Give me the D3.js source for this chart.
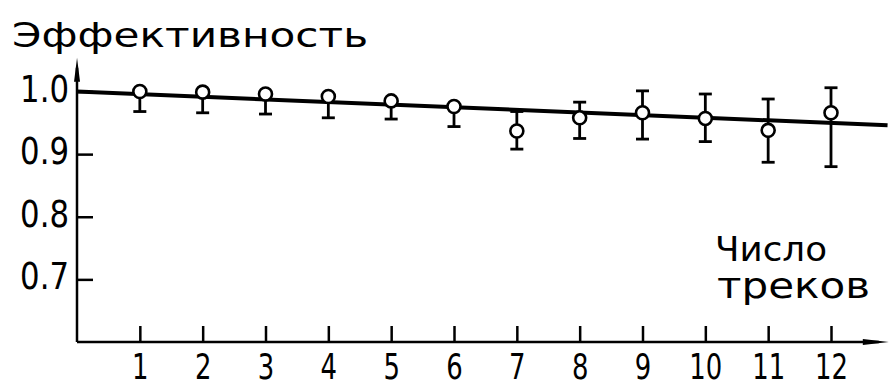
<!DOCTYPE html>
<html>
<head>
<meta charset="utf-8">
<script src="https://cdn.jsdelivr.net/npm/d3@7"></script>
<style>
  html, body { margin: 0; padding: 0; background: #fff; }
  svg { display: block; }
  .tick text { font-family: "DejaVu Sans Condensed", "DejaVu Sans", sans-serif; fill: #000; }
  .lbl { font-family: "DejaVu Sans", sans-serif; fill: #000; }
</style>
</head>
<body>
<div id="chart"></div>
<script>
// data
const tracks = [1, 2, 3, 4, 5, 6, 7, 8, 9, 10, 11, 12];
const efficiency = [1.000, 0.999, 0.996, 0.992, 0.985, 0.976, 0.937, 0.958, 0.966, 0.957, 0.938, 0.966];
const errLow  = [0.032, 0.033, 0.032, 0.034, 0.029, 0.032, 0.029, 0.033, 0.042, 0.037, 0.051, 0.086];
const errHigh = [0, 0, 0, 0, 0, 0, 0.031, 0.025, 0.035, 0.039, 0.050, 0.040];
const fitX = [0, 12.9];
const fitY = [1.0, 0.946];
const yTicks = [0.7, 0.8, 0.9, 1.0];
const xTicks = tracks;

const width = 890, height = 388;

const svg = d3.select('#chart')
  .append('svg')
    .attr('width', width)
    .attr('height', height);

const x = d3.scaleLinear().domain([0, 12]).range([77, 831]);
const y = d3.scaleLinear().domain([0.6, 1.0]).range([342, 91.5]);

// axes
const yAxis = d3.axisLeft(y)
  .tickValues(yTicks)
  .tickSize(-16)
  .tickPadding(8)
  .tickFormat(d3.format('.1f'));

svg.append('g')
  .attr('transform', 'translate(' + x(0) + ',0)')
  .call(yAxis)
  .call(g => g.select('.domain').remove())
  .call(g => g.selectAll('line').attr('stroke', '#000').attr('stroke-width', 2.5))
  .call(g => g.selectAll('text')
    .attr('font-size', 38)
    .attr('x', -8 / 0.9)
    .attr('transform', 'scale(0.9,1)')
    .attr('dy', '0.25em'));

const xAxis = d3.axisBottom(x)
  .tickValues(xTicks)
  .tickSize(-16)
  .tickPadding(11)
  .tickFormat(d3.format('d'));

svg.append('g')
  .attr('transform', 'translate(0,' + y(0.6) + ')')
  .call(xAxis)
  .call(g => g.select('.domain').remove())
  .call(g => g.selectAll('line').attr('stroke', '#000').attr('stroke-width', 2.5))
  .call(g => g.selectAll('text')
    .attr('font-size', 36)
    .attr('transform', 'scale(0.8,1)'));

// axis lines with arrows
const yTop = y(1.054);
const xEnd = x(12.92);

svg.append('line')
  .attr('x1', x(0)).attr('y1', y(0.6))
  .attr('x2', x(0)).attr('y2', yTop + 10)
  .attr('stroke', '#000').attr('stroke-width', 2.5);

svg.append('path')
  .attr('d', 'M' + x(0) + ',' + yTop + ' L' + (x(0) + 3) + ',' + (yTop + 24) + ' L' + (x(0) - 3) + ',' + (yTop + 24) + 'Z')
  .attr('fill', '#000');

svg.append('line')
  .attr('x1', x(0)).attr('y1', y(0.6))
  .attr('x2', xEnd - 10).attr('y2', y(0.6))
  .attr('stroke', '#000').attr('stroke-width', 2.5);

svg.append('path')
  .attr('d', 'M' + xEnd + ',' + y(0.6) + ' L' + (xEnd - 26) + ',' + (y(0.6) - 3) + ' L' + (xEnd - 26) + ',' + (y(0.6) + 3) + 'Z')
  .attr('fill', '#000');

// fit line
svg.append('path')
  .datum(fitX.map((d, i) => [d, fitY[i]]))
  .attr('fill', 'none')
  .attr('stroke', '#000')
  .attr('stroke-width', 4)
  .attr('d', d3.line()
    .x(d => x(d[0]))
    .y(d => y(d[1])));

// error bars
const pts = tracks.map((t, i) => ({ t: t, v: efficiency[i], lo: errLow[i], hi: errHigh[i] }));
const capW = 6.5;

const eb = svg.append('g')
  .attr('stroke', '#000')
  .attr('stroke-width', 2.8);

eb.selectAll('line.bar')
  .data(pts)
  .enter()
  .append('line')
  .attr('class', 'bar')
  .attr('x1', d => x(d.t)).attr('x2', d => x(d.t))
  .attr('y1', d => y(d.v + d.hi))
  .attr('y2', d => y(d.v - d.lo));

eb.selectAll('line.capLo')
  .data(pts)
  .enter()
  .append('line')
  .attr('class', 'capLo')
  .attr('x1', d => x(d.t) - capW).attr('x2', d => x(d.t) + capW)
  .attr('y1', d => y(d.v - d.lo)).attr('y2', d => y(d.v - d.lo));

eb.selectAll('line.capHi')
  .data(pts.filter(d => d.hi > 0))
  .enter()
  .append('line')
  .attr('class', 'capHi')
  .attr('x1', d => x(d.t) - capW).attr('x2', d => x(d.t) + capW)
  .attr('y1', d => y(d.v + d.hi)).attr('y2', d => y(d.v + d.hi));

// points
svg.selectAll('circle.pt')
  .data(pts)
  .enter()
  .append('circle')
  .attr('class', 'pt')
  .attr('cx', d => x(d.t))
  .attr('cy', d => y(d.v))
  .attr('r', 6.5)
  .attr('fill', '#fff')
  .attr('stroke', '#000')
  .attr('stroke-width', 2.6);

// labels
svg.append('text')
  .attr('class', 'lbl')
  .attr('x', 12).attr('y', 47)
  .attr('font-size', 34)
  .attr('textLength', 356)
  .attr('lengthAdjust', 'spacingAndGlyphs')
  .text('Эффективность');

svg.append('text')
  .attr('class', 'lbl')
  .attr('x', 715).attr('y', 261)
  .attr('font-size', 34)
  .attr('textLength', 112)
  .attr('lengthAdjust', 'spacingAndGlyphs')
  .text('Число');

svg.append('text')
  .attr('class', 'lbl')
  .attr('x', 717).attr('y', 298)
  .attr('font-size', 36)
  .attr('textLength', 153)
  .attr('lengthAdjust', 'spacingAndGlyphs')
  .text('треков');
</script>
</body>
</html>
